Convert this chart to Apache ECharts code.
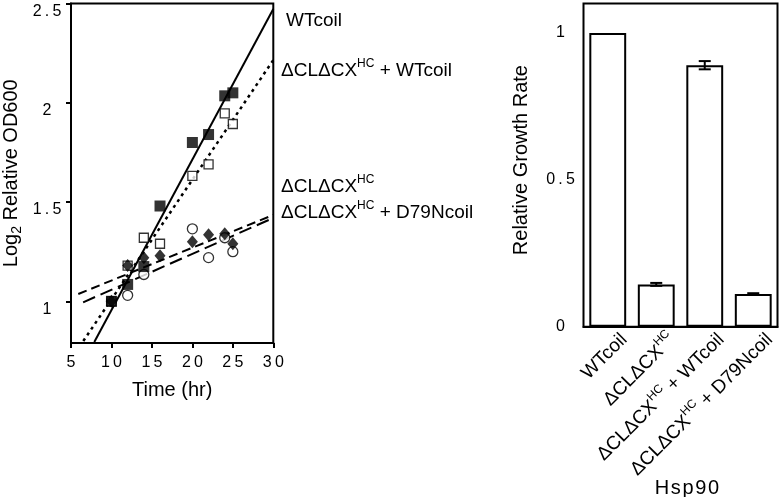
<!DOCTYPE html>
<html><head><meta charset="utf-8">
<script src="https://cdn.jsdelivr.net/npm/echarts@6/dist/echarts.min.js"></script>
<style>html,body{margin:0;padding:0;background:#fff}#c{width:780px;height:497px}</style>
</head><body><div id="c"></div>
<script>
// ---------- growth curves (left panel) ----------
const wtTime  = [10, 12, 14, 16, 20, 22, 24, 25];
const wtOD    = [1.0, 1.085, 1.175, 1.48, 1.80, 1.84, 2.035, 2.05];
const dWtTime = [10, 12, 14, 16, 20, 22, 24, 25];
const dWtOD   = [1.0, 1.18, 1.32, 1.29, 1.632, 1.69, 1.947, 1.893];
const dTime   = [10, 12, 14, 16, 20, 22, 24, 25];
const dOD     = [1.0, 1.18, 1.22, 1.23, 1.30, 1.335, 1.34, 1.29];
const d79Time = [10, 12, 14, 20, 22, 24, 25];
const d79OD   = [1.0, 1.03, 1.135, 1.365, 1.22, 1.32, 1.25];
// trend lines (end points)
const wtFitT  = [7.88, 30];  const wtFitY  = [0.795, 2.472];
const dWtFitT = [6.52, 30];  const dWtFitY = [0.80, 2.215];
const dFitT   = [5.9, 30];   const dFitY   = [1.037, 1.435];
const d79FitT = [6.5, 30];   const d79FitY = [0.995, 1.42];
const xTicks = [5, 10, 15, 20, 25, 30];
const yTicks = [1, 1.5, 2, 2.5];
const legendLabels = ['WTcoil', 'ΔCLΔCX^HC + WTcoil', 'ΔCLΔCX^HC', 'ΔCLΔCX^HC + D79Ncoil'];

// ---------- relative growth rate (right panel) ----------
const strains   = ['WTcoil', 'ΔCLΔCX^HC', 'ΔCLΔCX^HC + WTcoil', 'ΔCLΔCX^HC + D79Ncoil'];
const growth    = [1.0, 0.144, 0.89, 0.111];
const growthErr = [0, 0.005, 0.014, 0.003];
const barTicks  = [0, 0.5, 1];

const FONT = 'Liberation Sans, Arial, sans-serif';
const zip = (a, b) => a.map((v, i) => [v, b[i]]);
const spaced = v => String(v).split('').join('\u2009');
function richLabel(v) {
  const p = v.split('^HC');
  if (p.length < 2) return '{t|' + v + '}';
  let s = '{t|' + p[0] + '}{s|HC}';
  if (p[1]) s += '{t|' + p[1] + '}';
  return s;
}
const rich = {
  t: {fontSize: 19, fontFamily: FONT, color: '#000', lineHeight: 26},
  s: {fontSize: 12, fontFamily: FONT, color: '#000', lineHeight: 26, verticalAlign: 'top'}
};
const nameRich = {n: {fontSize: 20, fontFamily: FONT, color: '#000', lineHeight: 24}};

const chart = echarts.init(document.getElementById('c'), null, {renderer: 'canvas'});

const legendY = [24, 71, 187, 213];
const legendX = [286, 281, 281, 281];
const graphics = legendLabels.map((l, i) => ({
  type: 'text', left: legendX[i], top: legendY[i] - 13,
  style: {text: richLabel(l), rich: rich, fill: '#000'}
}));

const option = {
  animation: false,
  backgroundColor: '#fff',
  textStyle: {fontFamily: FONT, color: '#000'},
  graphic: graphics,
  grid: [
    {left: 71, right: 506.7, top: 3.5, bottom: 154, show: true, borderColor: '#000', borderWidth: 2,
     backgroundColor: 'transparent', outerBoundsMode: 'none', containLabel: false},
    {left: 583.5, right: 2.5, top: 3.5, bottom: 170.3, show: true, borderColor: '#000', borderWidth: 2,
     backgroundColor: 'transparent', outerBoundsMode: 'none', containLabel: false},
    {left: 600, right: -14, top: 3.5, bottom: 170.3, outerBoundsMode: 'none', containLabel: false}
  ],
  xAxis: [
    {gridIndex: 0, type: 'value', min: 5, max: 30, interval: 5,
     name: '{n|Time (hr)}', nameLocation: 'middle', nameGap: 35,
     nameTextStyle: {rich: nameRich},
     axisLine: {lineStyle: {color: '#000', width: 2}},
     axisTick: {length: 5, lineStyle: {color: '#000', width: 2}},
     axisLabel: {fontSize: 16, color: '#000', margin: 12, formatter: v => spaced(v)},
     splitLine: {show: false}},
    {gridIndex: 1, type: 'category', data: strains, boundaryGap: true,
     name: '{n|H\u200as\u200ap\u200a9\u200a0}', nameLocation: 'middle', nameGap: 150,
     nameTextStyle: {rich: nameRich, padding: [0, 0, 0, 13]},
     axisLine: {lineStyle: {color: '#000', width: 2}},
     axisTick: {length: 6, lineStyle: {color: '#000', width: 2}},
     axisLabel: {show: false}},
    {gridIndex: 2, type: 'category', data: strains, boundaryGap: true,
     axisLine: {show: false}, axisTick: {show: false},
     axisLabel: {rotate: 45, interval: 0, margin: 10, formatter: richLabel, rich: rich}}
  ],
  yAxis: [
    {gridIndex: 0, type: 'value', min: 0.79, max: 2.5,
     name: '{t|Log}{b|2}{t| Relative OD600}', nameLocation: 'middle', nameGap: 47, nameRotate: 90,
     nameTextStyle: {rich: {
       t: {fontSize: 20, fontFamily: FONT, color: '#000', lineHeight: 26},
       b: {fontSize: 14, fontFamily: FONT, color: '#000', lineHeight: 26, verticalAlign: 'bottom'}}},
     axisLine: {lineStyle: {color: '#000', width: 2}},
     axisTick: {length: 5, customValues: yTicks, lineStyle: {color: '#000', width: 2}},
     axisLabel: {fontSize: 16, color: '#000', margin: 24, align: 'center', verticalAlign: 'top',
                 customValues: yTicks, formatter: v => spaced(v)},
     splitLine: {show: false}},
    {gridIndex: 1, type: 'value', min: 0, max: 1.1,
     name: '{n|Relative Growth Rate}', nameLocation: 'middle', nameGap: 50,
     nameTextStyle: {rich: nameRich, padding: [0, 0, 0, 10]},
     axisLine: {lineStyle: {color: '#000', width: 2}},
     axisTick: {length: 6, customValues: barTicks, lineStyle: {color: '#000', width: 2}},
     axisLabel: {fontSize: 16, color: '#000', margin: 23, align: 'center', customValues: barTicks, formatter: v => spaced(v)},
     splitLine: {show: false}},
    {gridIndex: 2, type: 'value', min: 0, max: 1.1, show: false}
  ],
  series: [
    {type: 'line', xAxisIndex: 0, yAxisIndex: 0, data: zip(wtFitT, wtFitY), showSymbol: false, z: 2,
     lineStyle: {color: '#000', width: 2, type: 'solid'}},
    {type: 'line', xAxisIndex: 0, yAxisIndex: 0, data: zip(dWtFitT, dWtFitY), showSymbol: false, z: 2,
     lineStyle: {color: '#000', width: 2.5, type: [3, 4]}},
    {type: 'line', xAxisIndex: 0, yAxisIndex: 0, data: zip(dFitT, dFitY), showSymbol: false, z: 2,
     lineStyle: {color: '#000', width: 2, type: [9, 5]}},
    {type: 'line', xAxisIndex: 0, yAxisIndex: 0, data: zip(d79FitT, d79FitY), showSymbol: false, z: 2,
     lineStyle: {color: '#000', width: 2, type: [13, 6]}},
    {type: 'scatter', xAxisIndex: 0, yAxisIndex: 0, data: zip(d79Time, d79OD), z: 3,
     symbol: 'circle', symbolSize: 10, itemStyle: {color: '#fff', borderColor: '#000', borderWidth: 1.3}},
    {type: 'scatter', xAxisIndex: 0, yAxisIndex: 0, data: zip(dWtTime, dWtOD), z: 3,
     symbol: 'rect', symbolSize: 9, itemStyle: {color: '#fff', borderColor: '#000', borderWidth: 1.3}},
    {type: 'scatter', xAxisIndex: 0, yAxisIndex: 0, data: zip(dTime, dOD), z: 4,
     symbol: 'diamond', symbolSize: [11, 13], itemStyle: {color: '#000'}},
    {type: 'scatter', xAxisIndex: 0, yAxisIndex: 0, data: zip(wtTime, wtOD), z: 5,
     symbol: 'rect', symbolSize: 11, itemStyle: {color: '#000'}},
    {type: 'bar', xAxisIndex: 1, yAxisIndex: 1, data: growth, barWidth: '76%',
     itemStyle: {color: '#fff', borderColor: '#000', borderWidth: 2}},
    {type: 'custom', xAxisIndex: 1, yAxisIndex: 1, z: 5,
     data: growth.map((v, i) => [i, v, growthErr[i]]),
     encode: {x: 0, y: 1},
     renderItem: function (params, api) {
       const e = api.value(2);
       if (!e) return null;
       const i = api.value(0), v = api.value(1);
       const top = api.coord([i, v + e]), bot = api.coord([i, v - e]);
       const w = 12, st = {stroke: '#000', lineWidth: 2};
       return {type: 'group', children: [
         {type: 'line', shape: {x1: top[0], y1: top[1], x2: bot[0], y2: bot[1]}, style: st},
         {type: 'line', shape: {x1: top[0] - w / 2, y1: top[1], x2: top[0] + w / 2, y2: top[1]}, style: st},
         {type: 'line', shape: {x1: bot[0] - w / 2, y1: bot[1], x2: bot[0] + w / 2, y2: bot[1]}, style: st}
       ]};
     }}
  ]
};
chart.setOption(option);
</script>
</body></html>
